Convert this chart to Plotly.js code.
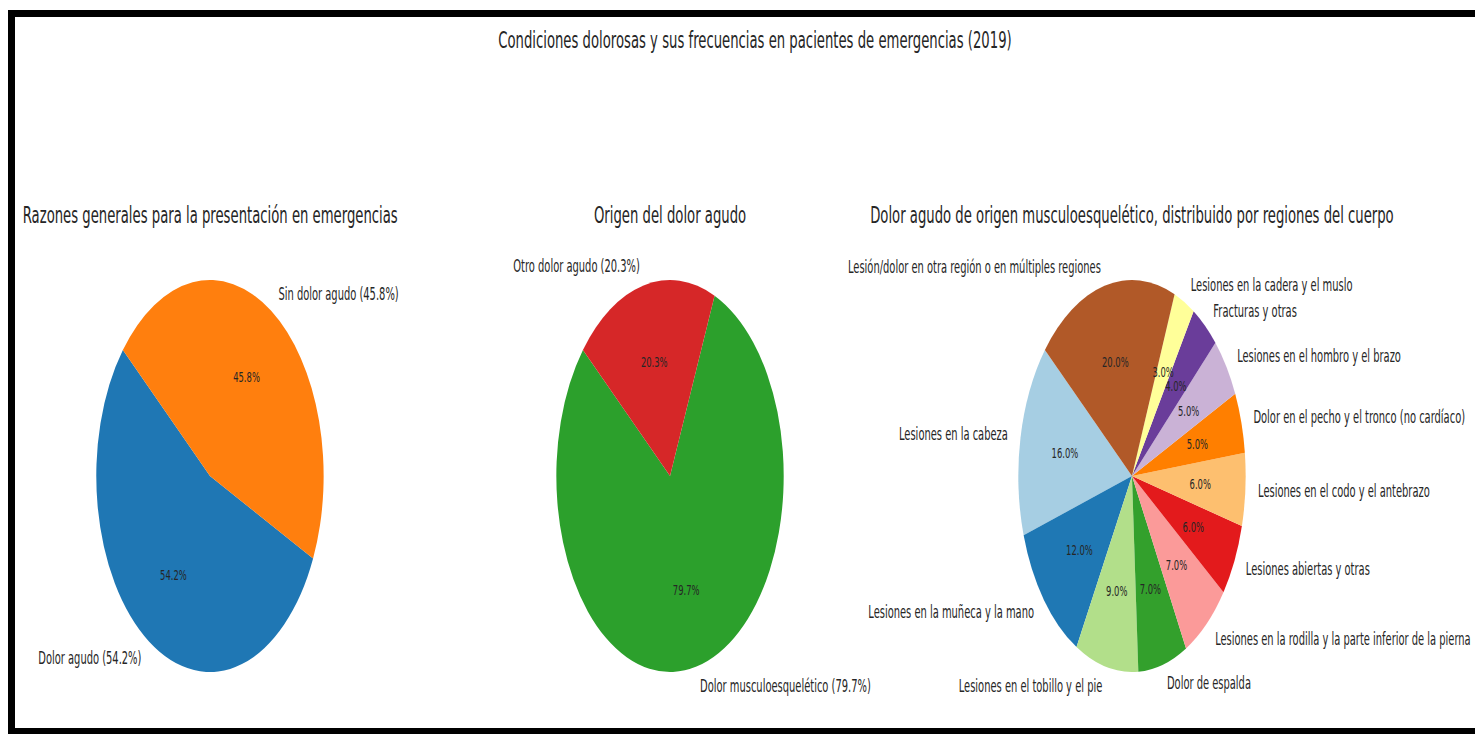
<!DOCTYPE html>
<html>
<head>
<meta charset="utf-8">
<script src="https://cdn.plot.ly/plotly-3.0.1.min.js"></script>
<style>
  html, body { margin: 0; padding: 0; background: #fff; overflow: hidden; width: 1475px; height: 734px; }
  #chart { position: absolute; left: 0; top: 0; width: 2543px; height: 734px; transform: scaleX(0.58); transform-origin: 0 0; }
  #frame { position: absolute; left: 8px; top: 10px; width: 1520px; height: 711px; border: 7px solid #000; pointer-events: none; z-index: 5; }
</style>
</head>
<body>
<div id="chart"></div>
<div id="frame"></div>
<script>
// ---- data ----
const mainTitle = "Condiciones dolorosas y sus frecuencias en pacientes de emergencias (2019)";

const title1 = "Razones generales para la presentación en emergencias";
const labels1 = ["Dolor agudo", "Sin dolor agudo"];
const values1 = [54.2, 45.8];
const colors1 = ["#1f77b4", "#ff7f0e"];

const title2 = "Origen del dolor agudo";
const labels2 = ["Dolor musculoesquelético", "Otro dolor agudo"];
const values2 = [79.7, 20.3];
const colors2 = ["#2ca02c", "#d62728"];

const title3 = "Dolor agudo de origen musculoesquelético, distribuido por regiones del cuerpo";
const labels3 = [
  "Lesiones en la cabeza",
  "Lesiones en la muñeca y la mano",
  "Lesiones en el tobillo y el pie",
  "Dolor de espalda",
  "Lesiones en la rodilla y la parte inferior de la pierna",
  "Lesiones abiertas y otras",
  "Lesiones en el codo y el antebrazo",
  "Dolor en el pecho y el tronco (no cardíaco)",
  "Lesiones en el hombro y el brazo",
  "Fracturas y otras",
  "Lesiones en la cadera y el muslo",
  "Lesión/dolor en otra región o en múltiples regiones"
];
const values3 = [16, 12, 9, 7, 7, 6, 6, 5, 5, 4, 3, 20];
const colors3 = ["#a6cee3", "#1f78b4", "#b2df8a", "#33a02c", "#fb9a99", "#e31a1c",
                 "#fdbf6f", "#ff7f00", "#cab2d6", "#6a3d9a", "#ffff99", "#b15928"];

// ---- layout helpers ----
const W = 2543, H = 734;
const FONT = "DejaVu Sans, sans-serif";
const TXT = "#262626";
const START = 140;     // start angle (deg, counterclockwise from 3 o'clock)
const R = 196;         // pie radius in px
const cy = 476;        // pie centre y in px
const centersX = [362, 1155.2, 1951.7];
const LABEL_DIST = 1.1, PCT_DIST = 0.6;

function domainFor(cx) {
  return { x: [(cx - R) / W, (cx + R) / W], y: [1 - (cy + R) / H, 1 - (cy - R) / H] };
}
function total(v) { return v.reduce((a, b) => a + b, 0); }
function fmtPct(v, tot) { return (v / tot * 100).toFixed(1) + "%"; }

function pieTrace(labels, values, colors, cx) {
  const tot = total(values);
  return {
    type: "pie", labels: labels, values: values, sort: false,
    direction: "counterclockwise",
    rotation: (90 - START) - values[0] / tot * 360,
    domain: domainFor(cx),
    marker: { colors: colors, line: { width: 0 } },
    textinfo: "none", showlegend: false, hoverinfo: "skip"
  };
}

// labels & percentages positioned along each slice's bisector (from the data)
function sliceAnnotations(labels, values, cx, withPct) {
  const tot = total(values);
  const out = [];
  let cum = 0;
  values.forEach((v, i) => {
    const mid = (START + (cum + v / 2) / tot * 360) * Math.PI / 180;
    cum += v;
    const c = Math.cos(mid), s = Math.sin(mid);
    const lx = cx + LABEL_DIST * R * c, ly = cy - LABEL_DIST * R * s;
    out.push({
      text: withPct ? labels[i] + " (" + fmtPct(v, tot) + ")" : labels[i],
      xref: "paper", yref: "paper", x: lx / W, y: 1 - ly / H,
      xanchor: c > 0 ? "left" : "right", yanchor: "middle", showarrow: false,
      font: { family: FONT, size: 17.1, color: TXT }
    });
    const px = cx + PCT_DIST * R * c, py = cy - PCT_DIST * R * s;
    out.push({
      text: fmtPct(v, tot),
      xref: "paper", yref: "paper", x: px / W, y: 1 - py / H,
      xanchor: "center", yanchor: "middle", showarrow: false,
      font: { family: FONT, size: 14.5, color: TXT }
    });
  });
  return out;
}

const data = [
  pieTrace(labels1, values1, colors1, centersX[0]),
  pieTrace(labels2, values2, colors2, centersX[1]),
  pieTrace(labels3, values3, colors3, centersX[2])
];

const subTitleY = 1 - 215 / H;
const titleAnns = [title1, title2, title3].map((t, i) => ({
  text: t, xref: "paper", yref: "paper",
  x: centersX[i] / W, y: subTitleY, xanchor: "center", yanchor: "middle",
  showarrow: false, font: { family: FONT, size: 22.8, color: TXT }
}));

const layout = {
  width: W, height: H, autosize: false,
  margin: { l: 0, r: 0, t: 0, b: 0 },
  paper_bgcolor: "rgba(0,0,0,0)",
  font: { family: FONT, color: TXT },
  title: {
    text: mainTitle, x: 755 / 1475, y: 1 - 40 / H,
    xanchor: "center", yanchor: "middle",
    font: { family: FONT, size: 22.8, color: TXT }
  },
  annotations: titleAnns.concat(
    sliceAnnotations(labels1, values1, centersX[0], true),
    sliceAnnotations(labels2, values2, centersX[1], true),
    sliceAnnotations(labels3, values3, centersX[2], false)
  )
};

Plotly.newPlot("chart", data, layout, { staticPlot: true, displayModeBar: false });
</script>
</body>
</html>
